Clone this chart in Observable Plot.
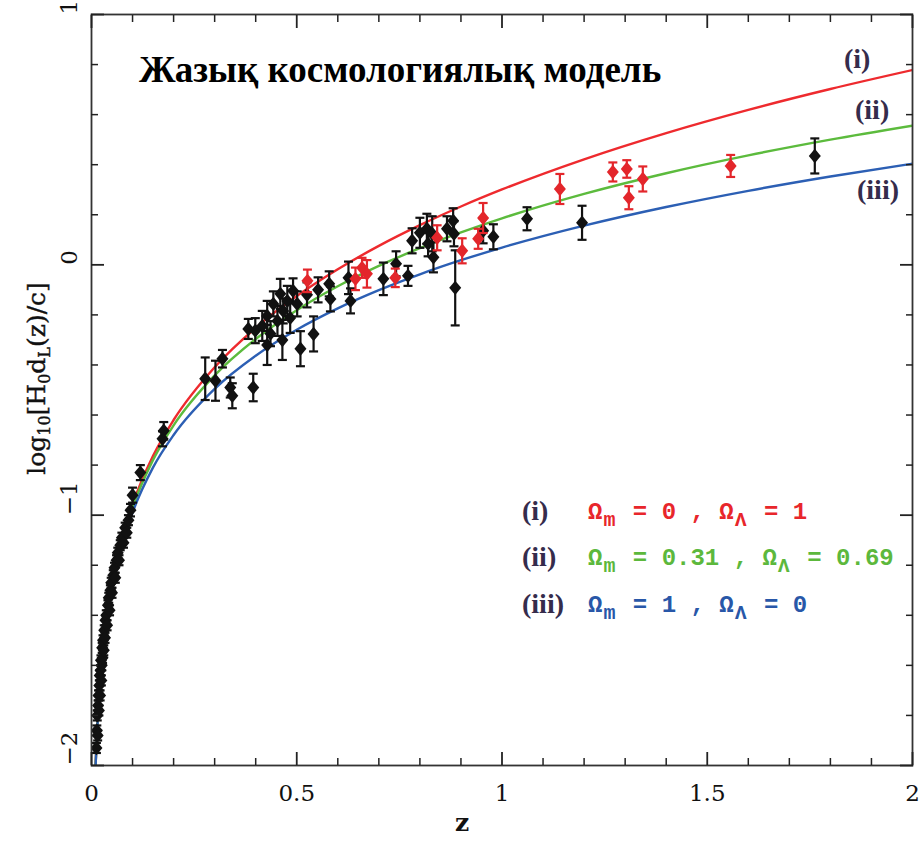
<!DOCTYPE html>
<html>
<head>
<meta charset="utf-8">
<script src="https://cdn.jsdelivr.net/npm/d3@7"></script>
<script src="https://cdn.jsdelivr.net/npm/@observablehq/plot@0.6"></script>
<style>
  html, body { margin: 0; padding: 0; background: #fff; }
  #wrap { position: relative; width: 923px; height: 845px; overflow: hidden; background: #fff; }
  #chart { position: absolute; left: 0; top: 0; }
  .ov { position: absolute; white-space: pre; line-height: 1; }
  .title { font-family: "Liberation Serif", serif; font-weight: bold; font-size: 37px; color: #000; }
  .clab { font-family: "Liberation Serif", serif; font-weight: bold; font-size: 28px; color: #352c4c; }
  .leg { font-family: "Liberation Mono", monospace; font-weight: bold; font-size: 24px; }
  .leg sub { font-size: 20px; vertical-align: -7px; padding: 0 3px 0 1px; }
  .ylab { font-family: "DejaVu Serif", serif; font-size: 25px; color: #111; -webkit-text-stroke: 0.4px #111; }
  .ylab sub { font-size: 16px; vertical-align: -5px; }
  .xlab { font-family: "DejaVu Serif", serif; font-weight: bold; font-size: 25px; color: #111; }
</style>
</head>
<body>
<div id="wrap">
  <div id="chart"></div>
</div>
<script>
// ---- axis tick values ----
const xMajor = [0, 0.5, 1, 1.5, 2];
const xMinor = [0.1, 0.2, 0.3, 0.4, 0.6, 0.7, 0.8, 0.9, 1.1, 1.2, 1.3, 1.4, 1.6, 1.7, 1.8, 1.9];
const yMajor = [-2, -1, 0, 1];
const yMinor = [-1.8, -1.6, -1.4, -1.2, -0.8, -0.6, -0.4, -0.2, 0.2, 0.4, 0.6, 0.8];

// ---- model curves: redshift and log10(H0 dL / c) ----
const zCurve   = [0.01, 0.015, 0.02, 0.03, 0.05, 0.075, 0.1, 0.15, 0.2, 0.3, 0.4, 0.5, 0.6, 0.7, 0.8, 0.9, 1.0, 1.2, 1.4, 1.6, 1.8, 2.0];
const curveI   = [-1.9957, -1.8174, -1.6904, -1.5100, -1.2798, -1.0935, -0.9586, -0.7632, -0.6198, -0.4089, -0.2518, -0.1249, -0.0177, 0.0756, 0.1584, 0.2330, 0.3010, 0.4216, 0.5263, 0.6191, 0.7024, 0.7782];
const curveII  = [-1.9967, -1.8190, -1.6924, -1.5131, -1.2850, -1.1011, -0.9690, -0.7790, -0.6411, -0.4416, -0.2961, -0.1810, -0.0857, -0.0043, 0.0666, 0.1294, 0.1858, 0.2834, 0.3660, 0.4373, 0.5001, 0.5560];
const curveIII = [-1.9989, -1.8223, -1.6968, -1.5197, -1.2958, -1.1172, -0.9898, -0.8090, -0.6796, -0.4953, -0.3629, -0.2592, -0.1738, -0.1011, -0.0378, 0.0184, 0.0688, 0.1564, 0.2309, 0.2956, 0.3528, 0.4041];
const curveColors = ["#ee2a2e", "#5cbb3d", "#2c5fb4"];

// ---- black data points: z, log10(H0 dL/c), error ----
const blackZ = [0.012,0.013,0.014,0.015,0.016,0.017,0.018,0.019,0.020,0.021,0.022,0.023,0.024,0.025,0.026,0.027,0.028,0.030,0.031,0.033,0.034,0.036,0.038,0.040,0.042,0.044,0.046,0.048,0.050,0.053,0.056,0.058,0.061,0.064,0.067,0.070,0.074,0.078,0.082,0.086,0.090,0.095,0.100,0.119,0.173,0.176,
  0.277,0.302,0.319,0.338,0.343,0.394,0.382,0.399,0.416,0.428,0.428,0.436,0.443,0.453,0.460,0.465,0.467,0.477,0.484,0.491,0.501,0.509,0.525,0.541,0.552,0.579,0.582,0.626,0.631,0.711,0.742,0.771,0.781,0.800,0.817,0.820,0.830,0.833,0.866,0.881,0.883,0.886,0.954,0.979,1.061,1.195,1.762];
const blackY = [-1.93,-1.86,-1.80,-1.88,-1.76,-1.72,-1.78,-1.68,-1.64,-1.72,-1.62,-1.58,-1.66,-1.60,-1.53,-1.57,-1.50,-1.54,-1.46,-1.49,-1.42,-1.40,-1.44,-1.36,-1.33,-1.38,-1.30,-1.27,-1.31,-1.24,-1.21,-1.25,-1.18,-1.15,-1.18,-1.12,-1.09,-1.11,-1.05,-1.07,-1.02,-0.98,-0.92,-0.83,-0.695,-0.663,
  -0.455,-0.463,-0.375,-0.490,-0.523,-0.490,-0.256,-0.263,-0.244,-0.204,-0.320,-0.275,-0.156,-0.224,-0.116,-0.300,-0.184,-0.144,-0.212,-0.104,-0.156,-0.335,-0.120,-0.276,-0.100,-0.076,-0.136,-0.052,-0.144,-0.056,0.004,-0.044,0.096,0.128,0.144,0.084,0.124,0.030,0.144,0.176,0.124,-0.092,0.136,0.112,0.184,0.168,0.435];
const blackErr = [0.02,0.02,0.02,0.02,0.02,0.02,0.02,0.02,0.02,0.02,0.02,0.02,0.02,0.02,0.02,0.02,0.02,0.02,0.02,0.02,0.02,0.02,0.02,0.02,0.02,0.02,0.02,0.02,0.02,0.02,0.02,0.02,0.02,0.02,0.02,0.02,0.02,0.02,0.02,0.02,0.02,0.025,0.03,0.03,0.03,0.035,
  0.085,0.080,0.035,0.040,0.050,0.055,0.040,0.050,0.060,0.060,0.080,0.050,0.050,0.060,0.060,0.080,0.050,0.060,0.060,0.050,0.050,0.070,0.050,0.070,0.050,0.050,0.050,0.065,0.050,0.065,0.050,0.040,0.050,0.060,0.060,0.050,0.070,0.060,0.050,0.050,0.050,0.150,0.050,0.050,0.046,0.068,0.070];

// ---- red data points ----
const redZ   = [0.526, 0.643, 0.659, 0.671, 0.740, 0.842, 0.903, 0.942, 0.954, 1.141, 1.270, 1.304, 1.309, 1.343, 1.557];
const redY   = [-0.064, -0.056, -0.012, -0.036, -0.052, 0.108, 0.056, 0.104, 0.187, 0.303, 0.371, 0.383, 0.268, 0.343, 0.395];
const redErr = [0.045, 0.045, 0.040, 0.055, 0.037, 0.050, 0.050, 0.040, 0.060, 0.060, 0.038, 0.035, 0.046, 0.050, 0.044];

// ---- build tables ----
const curves = [curveI, curveII, curveIII].flatMap((arr, k) =>
  zCurve.map((z, i) => ({ z, v: arr[i], model: k })));
const black = blackZ.map((z, i) => ({ z, y: blackY[i], e: blackErr[i] }));
const red = redZ.map((z, i) => ({ z, y: redY[i], e: redErr[i] }));

const diamond = { draw(ctx, size) { const r = Math.sqrt(size / Math.PI); ctx.moveTo(0, -1.2 * r); ctx.lineTo(r, 0); ctx.lineTo(0, 1.2 * r); ctx.lineTo(-r, 0); ctx.closePath(); } };
const cap = { draw(ctx, size) { const r = Math.sqrt(size / Math.PI); ctx.moveTo(-r, 0); ctx.lineTo(r, 0); } };

function points(data, color) {
  return [
    Plot.ruleX(data, { x: "z", y1: d => d.y - d.e, y2: d => d.y + d.e, stroke: color, strokeWidth: 2.2, clip: true }),
    Plot.dot(data, { x: "z", y: d => d.y - d.e, symbol: cap, r: 4.5, stroke: color, strokeWidth: 2.2, clip: true }),
    Plot.dot(data, { x: "z", y: d => d.y + d.e, symbol: cap, r: 4.5, stroke: color, strokeWidth: 2.2, clip: true }),
    Plot.dot(data, { x: "z", y: "y", symbol: diamond, r: 6, fill: color, stroke: "none", clip: true })
  ];
}

const tickFont = { fontFamily: "DejaVu Serif", fontSize: 23, fill: "#111" };

const chart = Plot.plot({
  width: 923, height: 845,
  marginLeft: 91, marginRight: 11, marginTop: 14, marginBottom: 80,
  x: { domain: [0, 2] },
  y: { domain: [-2, 1] },
  style: { background: "white", color: "#222", overflow: "visible" },
  marks: [
    // model curves
    Plot.line(curves, { x: "z", y: "v", z: "model", stroke: d => curveColors[d.model], strokeWidth: 2.4, curve: "monotone-x", clip: true }),
    // data
    ...points(black, "#111"),
    ...points(red, "#e3262b"),
    // frame & inward ticks
    Plot.frame({ stroke: "#333", strokeWidth: 1.8 }),
    Plot.axisX(xMinor, { anchor: "bottom", tickSize: -7, tickFormat: () => "", label: null, strokeWidth: 1.5 }),
    Plot.axisX(xMajor, { anchor: "bottom", tickSize: -13, tickFormat: () => "", label: null, strokeWidth: 1.8 }),
    Plot.axisX(xMinor, { anchor: "top", tickSize: -7, tickFormat: () => "", label: null, strokeWidth: 1.5 }),
    Plot.axisX(xMajor, { anchor: "top", tickSize: -13, tickFormat: () => "", label: null, strokeWidth: 1.8 }),
    Plot.axisY(yMinor, { anchor: "left", tickSize: -7, tickFormat: () => "", label: null, strokeWidth: 1.5 }),
    Plot.axisY(yMajor, { anchor: "left", tickSize: -13, tickFormat: () => "", label: null, strokeWidth: 1.8 }),
    Plot.axisY(yMinor, { anchor: "right", tickSize: -7, tickFormat: () => "", label: null, strokeWidth: 1.5 }),
    Plot.axisY(yMajor, { anchor: "right", tickSize: -13, tickFormat: () => "", label: null, strokeWidth: 1.8 }),
    // tick labels
    Plot.text(xMajor, { x: d => d, frameAnchor: "bottom", dy: 35, text: d => String(d), ...tickFont }),
    Plot.text(yMajor, { y: d => d, frameAnchor: "left", dx: -22, rotate: -90, text: d => d < 0 ? "\u2212" + Math.abs(d) : String(d), ...tickFont })
  ]
});
document.getElementById("chart").appendChild(chart);

// ---- overlay texts ----
const wrap = document.getElementById("wrap");
function ov(html, cls, left, top, extra) {
  const d = document.createElement("div");
  d.className = "ov " + cls;
  d.innerHTML = html;
  d.style.left = left + "px";
  d.style.top = top + "px";
  if (extra) Object.assign(d.style, extra);
  wrap.appendChild(d);
  return d;
}
ov("Жазық космологиялық модель", "title", 139, 51);
ov("(i)", "clab", 844, 45);
ov("(ii)", "clab", 855, 96);
ov("(iii)", "clab", 857, 176);

const legRows = [
  { tag: "(i)", m: "0", l: "1", color: "#e8262b", top: 497 },
  { tag: "(ii)", m: "0.31", l: "0.69", color: "#5cb83c", top: 543 },
  { tag: "(iii)", m: "1", l: "0", color: "#2857a8", top: 590 }
];
legRows.forEach(r => {
  ov(r.tag, "clab", 522, r.top);
  ov(`Ω<sub>m</sub> = ${r.m} , Ω<sub>Λ</sub> = ${r.l}`, "leg", 588, r.top + 4, { color: r.color });
});

const yl = ov("log<sub>10</sub>[H<sub>0</sub>d<sub>L</sub>(z)/c]", "ylab", 0, 0);
const w = yl.offsetWidth, h = yl.offsetHeight;
yl.style.left = (38 - w / 2) + "px";
yl.style.top = (378 - h / 2) + "px";
yl.style.transform = "rotate(-90deg)";

const xl = ov("z", "xlab", 0, 0);
xl.style.left = (462 - xl.offsetWidth / 2) + "px";
xl.style.top = "810px";
</script>
</body>
</html>
